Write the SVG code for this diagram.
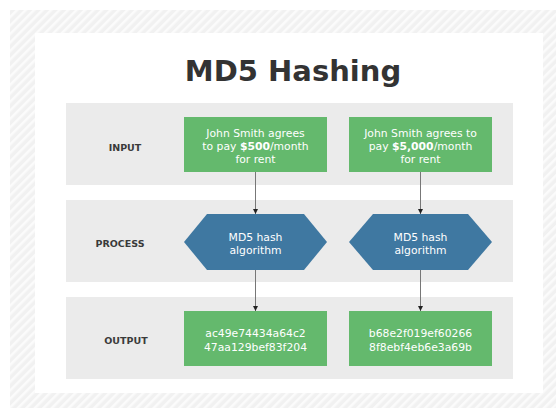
<svg xmlns="http://www.w3.org/2000/svg" width="556" height="410" viewBox="0 0 556 410">
  <defs>
    <pattern id="hatch" width="6" height="6" patternUnits="userSpaceOnUse" patternTransform="rotate(45)">
      <rect width="6" height="6" fill="#f1f1f1"/>
      <rect width="2.5" height="6" fill="#fbfbfb"/>
    </pattern>
    <marker id="arr" viewBox="0 0 6 6" refX="6" refY="3" markerWidth="5" markerHeight="5" orient="auto" markerUnits="userSpaceOnUse">
      <path d="M0,0 L6,3 L0,6 Z" fill="#222"/>
    </marker>
  </defs>
  <style>
    .row { fill: #ebebeb; }
    .green { fill: #64b96d; }
    .hex { fill: #3f78a1; }
    .lbl { font-family: "DejaVu Sans", "Liberation Sans", sans-serif; font-weight: bold; font-size: 9.5px; fill: #3a3a3a; text-anchor: middle; }
    .wt { font-family: "DejaVu Sans", "Liberation Sans", sans-serif; font-size: 10.8px; fill: #ffffff; text-anchor: middle; }
    .b { font-weight: bold; }
    .conn line { stroke: #777; stroke-width: 1; marker-end: url(#arr); }
  </style>
  <rect width="556" height="410" fill="#ffffff"/>
  <rect x="10" y="10" width="546" height="398" fill="url(#hatch)"/>
  <rect x="35" y="33" width="508" height="360" fill="#ffffff"/>
  <text x="293" y="81" font-family="DejaVu Sans, Liberation Sans, sans-serif" font-weight="bold" font-size="29" fill="#333333" text-anchor="middle">MD5 Hashing</text>

  <g id="row-input">
    <rect class="row" x="66" y="103" width="447" height="82"/>
    <text class="lbl" x="125" y="150.5">INPUT</text>
  </g>
  <g id="row-process">
    <rect class="row" x="66" y="200" width="447" height="82"/>
    <text class="lbl" x="120" y="246.5">PROCESS</text>
  </g>
  <g id="row-output">
    <rect class="row" x="66" y="297" width="447" height="82"/>
    <text class="lbl" x="126" y="343.5">OUTPUT</text>
  </g>

  <g id="input1">
    <rect class="green" x="184" y="117" width="143" height="55"/>
    <text class="wt" x="255.5" y="137">John Smith agrees</text>
    <text class="wt" x="255.5" y="150">to pay <tspan class="b">$500</tspan>/month</text>
    <text class="wt" x="255.5" y="163">for rent</text>
  </g>
  <g id="input2">
    <rect class="green" x="349" y="117" width="143" height="55"/>
    <text class="wt" x="420.5" y="137">John Smith agrees to</text>
    <text class="wt" x="420.5" y="150">pay <tspan class="b">$5,000</tspan>/month</text>
    <text class="wt" x="420.5" y="163">for rent</text>
  </g>

  <g id="process1">
    <polygon class="hex" points="184,242 207,214 304,214 327,242 304,270 207,270"/>
    <text class="wt" x="255.5" y="241">MD5 hash</text>
    <text class="wt" x="255.5" y="254">algorithm</text>
  </g>
  <g id="process2">
    <polygon class="hex" points="349,242 373,214 468,214 492,242 468,270 373,270"/>
    <text class="wt" x="420.5" y="241">MD5 hash</text>
    <text class="wt" x="420.5" y="254">algorithm</text>
  </g>

  <g id="output1">
    <rect class="green" x="184" y="311" width="143" height="55"/>
    <text class="wt" x="255.5" y="337">ac49e74434a64c2</text>
    <text class="wt" x="255.5" y="351">47aa129bef83f204</text>
  </g>
  <g id="output2">
    <rect class="green" x="349" y="311" width="143" height="55"/>
    <text class="wt" x="420.5" y="337">b68e2f019ef60266</text>
    <text class="wt" x="420.5" y="351">8f8ebf4eb6e3a69b</text>
  </g>

  <g id="connectors" class="conn">
    <line x1="255.5" y1="172" x2="255.5" y2="214"/>
    <line x1="420.5" y1="172" x2="420.5" y2="214"/>
    <line x1="255.5" y1="270" x2="255.5" y2="311"/>
    <line x1="420.5" y1="270" x2="420.5" y2="311"/>
  </g>
</svg>
